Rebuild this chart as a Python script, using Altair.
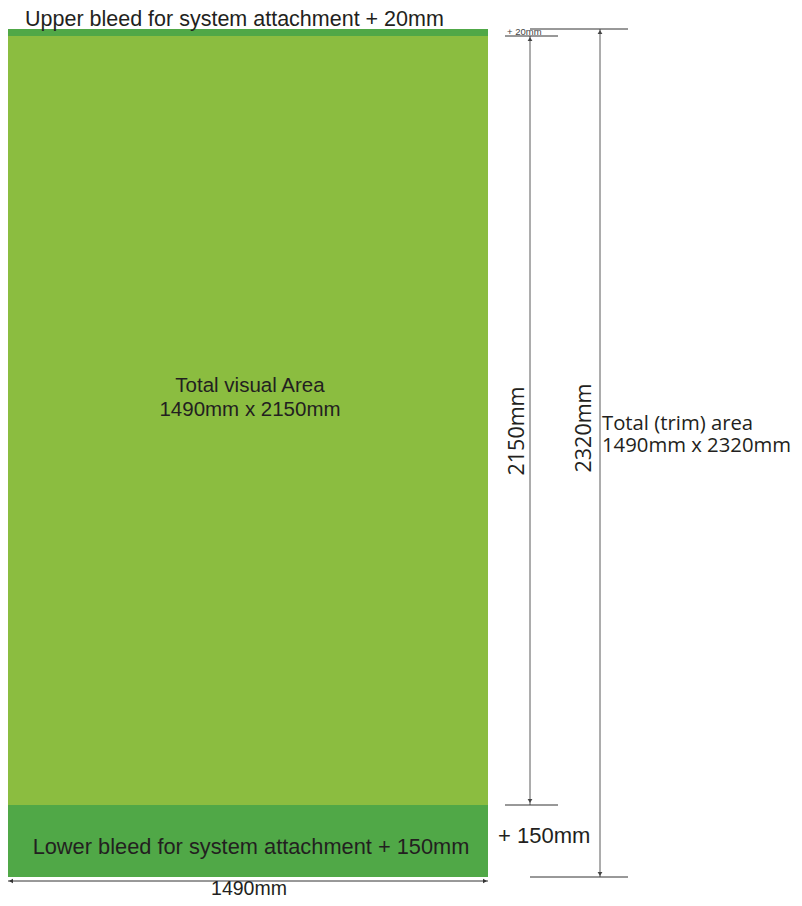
import altair as alt
import pandas as pd

# ---- data (mm) ----
band_names = ["Lower bleed", "Total visual Area", "Upper bleed"]
band_start_mm = [0, 150, 2300]
band_end_mm = [150, 2300, 2320]
band_colors = ["#50a847", "#8bbd40", "#50a847"]
panel_width_mm = 1490

upper_label = "Upper bleed for system attachment + 20mm"
lower_label = "Lower bleed for system attachment + 150mm"
visual_label = ["Total visual Area", "1490mm x 2150mm"]
total_label = ["Total (trim) area", "1490mm x 2320mm"]
visual_height_label = "2150mm"
total_height_label = "2320mm"
upper_dim_label = "+ 20mm"
lower_dim_label = "+ 150mm"
width_label = "1490mm"

bands = pd.DataFrame({
    "band": band_names,
    "start": band_start_mm,
    "end": band_end_mm,
    "x0": [0] * 3,
    "x1": [panel_width_mm] * 3,
})
one = pd.DataFrame({"k": [0]})

# diagram is not to scale: piecewise scale for the bands
yscale = alt.Scale(domain=[0, 150, 2300, 2320], range=[869, 797, 28, 21], nice=False, zero=False)
xscale = alt.Scale(domain=[0, panel_width_mm], range=[0, 480], nice=False, zero=False)

LINE = "#5a5a5a"
TXT = "#231f20"
HEL = "Liberation Sans"
OPS = "Open Sans"

rects = alt.Chart(bands).mark_rect().encode(
    x=alt.X("x0:Q", scale=xscale, axis=None),
    x2="x1:Q",
    y=alt.Y("start:Q", scale=yscale, axis=None),
    y2="end:Q",
    color=alt.Color("band:N", scale=alt.Scale(domain=band_names, range=band_colors), legend=None),
)

def yd(v):
    return alt.YDatum(v, type="quantitative", scale=yscale)

def xd(v):
    return alt.XDatum(v, type="quantitative", scale=xscale)

def vrule(xpx, ytop, ybot):
    return alt.Chart(one).mark_rule(color=LINE, strokeWidth=1).encode(
        x=alt.value(xpx), y=yd(ytop), y2=alt.Y2Datum(ybot))

def hrule(x1, x2, yv):
    return alt.Chart(one).mark_rule(color="#333333", strokeWidth=1).encode(
        x=alt.value(x1), x2=alt.value(x2), y=yd(yv))

def head(shape, xpx, yv, yoff=0, xoff=0):
    return alt.Chart(one).mark_point(shape=shape, filled=True, size=22, color="#444444", opacity=1,
                                     yOffset=yoff, xOffset=xoff).encode(
        x=alt.value(xpx), y=yd(yv))

layers = [rects]
# vertical dimension 2150
layers.append(vrule(522, 2300, 150))
layers.append(head("triangle-up", 522, 2300, yoff=3))
layers.append(head("triangle-down", 522, 150, yoff=-4))
# vertical dimension 2320
layers.append(vrule(592, 2320, 0))
layers.append(head("triangle-up", 592, 2320, yoff=3))
layers.append(head("triangle-down", 592, 0, yoff=-3))
# extension lines
layers.append(hrule(522, 620, 2320))
layers.append(hrule(497, 550, 2300))
layers.append(hrule(497, 550, 150))
layers.append(hrule(522, 620, 0))

# horizontal width dimension
ARROW_Y = 873
layers.append(alt.Chart(one).mark_rule(color="#333333", strokeWidth=1).encode(
    x=xd(0), x2=alt.X2Datum(panel_width_mm), y=alt.value(ARROW_Y)))
layers.append(alt.Chart(one).mark_point(shape="triangle-left", filled=True, size=22, color="#333333",
                                        opacity=1, xOffset=3).encode(x=xd(0), y=alt.value(ARROW_Y)))
layers.append(alt.Chart(one).mark_point(shape="triangle-right", filled=True, size=22, color="#333333",
                                        opacity=1, xOffset=-3).encode(x=xd(panel_width_mm), y=alt.value(ARROW_Y)))

def text(t, x, y, size, font=HEL, align="left", baseline="alphabetic", angle=0, color=TXT, lh=None):
    kw = dict(text=t, font=font, fontSize=size, align=align, baseline=baseline, color=color)
    if angle:
        kw["angle"] = angle
    if lh:
        kw["lineHeight"] = lh
    return alt.Chart(one).mark_text(**kw).encode(x=alt.value(x), y=alt.value(y))

layers.append(text(upper_label, 17, 18, 21.5))
layers.append(text(lower_label, 243, 846, 21.8, align="center"))
layers.append(text(visual_label, 242, 384, 20.5, align="center", lh=24))
layers.append(text(total_label, 594, 422, 20.3, font=OPS, lh=22))
layers.append(text(visual_height_label, 510, 423, 21.5, font=OPS, align="center", baseline="middle", angle=270))
layers.append(text(total_height_label, 577, 420, 21.5, font=OPS, align="center", baseline="middle", angle=270))
layers.append(text(upper_dim_label, 499, 27, 9.5, color="#444444"))
layers.append(text(lower_dim_label, 490, 835, 22))
layers.append(text(width_label, 241, 887, 19.5, align="center"))

chart = alt.layer(*layers).properties(
    width=786, height=890, padding=0, background="white",
    autosize=alt.AutoSizeParams(type="none"),
).configure_view(stroke=None)

chart.save("out.html", embed_options={"renderer": "svg", "actions": False})
